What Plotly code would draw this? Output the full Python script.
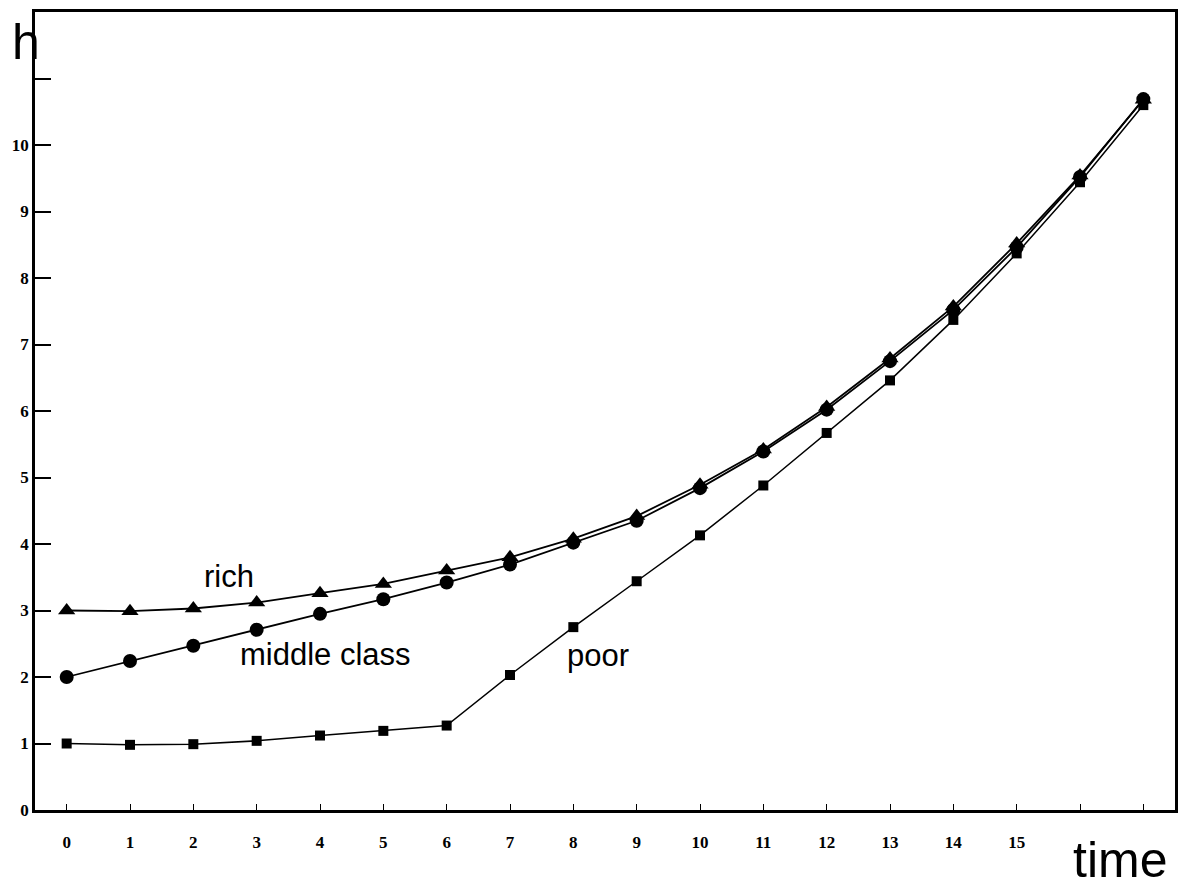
import plotly.graph_objects as go

# Human capital h over time for three classes
time = list(range(18))
rich = [3.00, 2.99, 3.03, 3.12, 3.26, 3.40, 3.60, 3.80, 4.08, 4.42,
        4.89, 5.42, 6.06, 6.79, 7.57, 8.52, 9.54, 10.68]
middle_class = [2.00, 2.24, 2.47, 2.71, 2.95, 3.17, 3.42, 3.69, 4.02, 4.35,
                4.84, 5.39, 6.02, 6.75, 7.52, 8.46, 9.52, 10.69]
poor = [1.00, 0.98, 0.99, 1.04, 1.12, 1.19, 1.27, 2.03, 2.75, 3.44,
        4.13, 4.88, 5.67, 6.46, 7.37, 8.37, 9.44, 10.60]

x_tick_vals = list(range(18))
x_tick_text = [str(v) for v in range(16)] + ["", ""]
y_tick_vals = list(range(12))
y_tick_text = [str(v) for v in range(11)] + [""]

fig = go.Figure()

fig.add_trace(go.Scatter(
    x=time, y=poor, mode="lines+markers", name="poor",
    line=dict(color="black", width=1.5),
    marker=dict(symbol="square", size=10, color="black"),
))
fig.add_trace(go.Scatter(
    x=time, y=rich, mode="lines+markers", name="rich",
    line=dict(color="black", width=1.8),
    marker=dict(symbol="triangle-up", size=15, color="black"),
))
fig.add_trace(go.Scatter(
    x=time, y=middle_class, mode="lines+markers", name="middle class",
    line=dict(color="black", width=1.8),
    marker=dict(symbol="circle", size=14, color="black"),
))

label_font = dict(family="Liberation Sans, Arial, sans-serif", size=31, color="black")
fig.add_annotation(x=2.57, y=3.51, text="rich", showarrow=False, font=label_font)
fig.add_annotation(x=4.09, y=2.34, text="middle class", showarrow=False, font=label_font)
fig.add_annotation(x=8.39, y=2.33, text="poor", showarrow=False, font=label_font)

axis_title_font = dict(family="Liberation Sans, Arial, sans-serif", size=50, color="black")
fig.add_annotation(xref="paper", yref="paper", x=-0.008, y=0.962, text="h",
                   showarrow=False, font=axis_title_font,
                   xanchor="center", yanchor="middle")
fig.add_annotation(xref="paper", yref="paper", x=0.952, y=-0.063, text="time",
                   showarrow=False, font=axis_title_font,
                   xanchor="center", yanchor="middle")

tick_font = dict(family="Liberation Serif, serif", size=17, color="black", weight="bold")

fig.update_xaxes(
    range=[-0.5, 17.5], tickmode="array", tickvals=x_tick_vals, ticktext=x_tick_text,
    ticks="inside", ticklen=6, tickwidth=1, tickcolor="black",
    showline=True, linecolor="black", linewidth=2.5, mirror=True,
    showgrid=False, zeroline=False, tickfont=tick_font,
    ticklabelstandoff=15, automargin=False,
)
fig.update_yaxes(
    range=[0, 12], tickmode="array", tickvals=y_tick_vals, ticktext=y_tick_text,
    ticks="inside", ticklen=16, tickwidth=1.5, tickcolor="black",
    showline=True, linecolor="black", linewidth=2.5, mirror=True,
    showgrid=False, zeroline=False, tickfont=tick_font,
    ticklabelstandoff=0, automargin=False,
)

fig.update_layout(
    width=1190, height=894,
    margin=dict(l=35, r=15, t=12, b=84),
    paper_bgcolor="white", plot_bgcolor="white",
    showlegend=False,
)

fig.write_html("out.html")
